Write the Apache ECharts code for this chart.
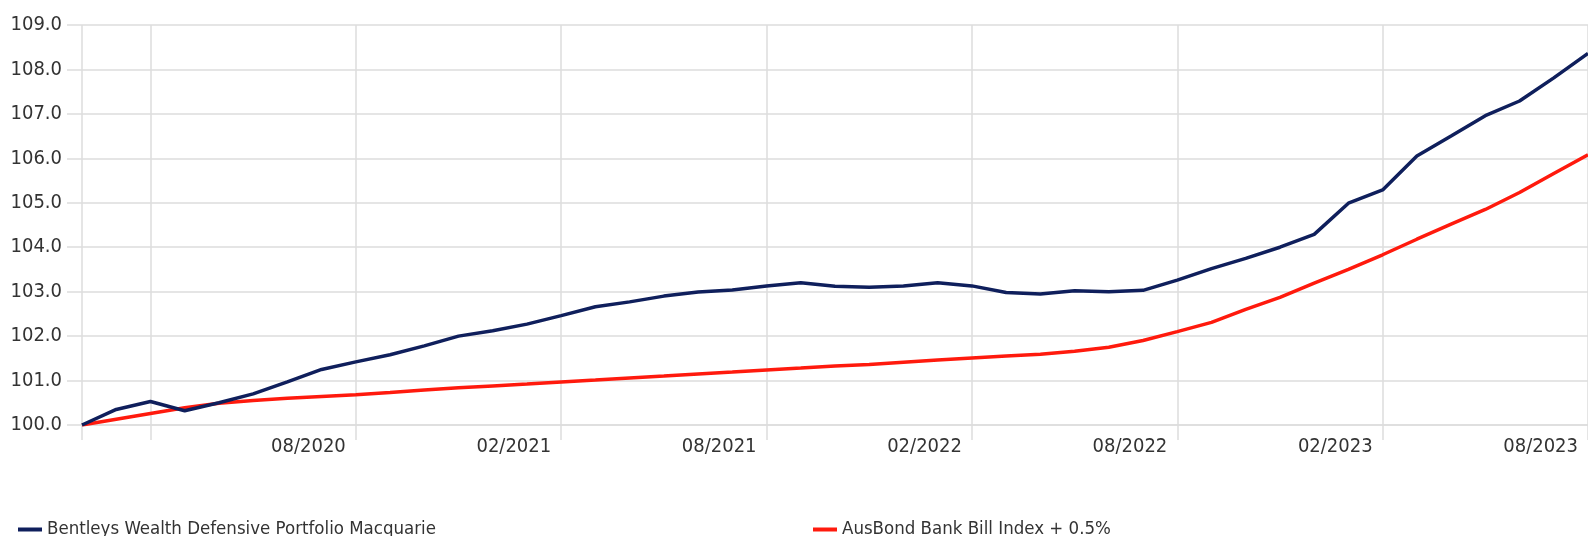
<!DOCTYPE html>
<html>
<head>
<meta charset="utf-8">
<script src="https://cdn.jsdelivr.net/npm/echarts@6/dist/echarts.min.js"></script>
<style>
html,body{margin:0;padding:0;background:#fff;}
#chart{width:1588px;height:536px;}
</style>
</head>
<body>
<div id="chart"></div>
<script>
const months = [
  '12/2019','01/2020','02/2020','03/2020','04/2020','05/2020','06/2020','07/2020','08/2020','09/2020','10/2020','11/2020',
  '12/2020','01/2021','02/2021','03/2021','04/2021','05/2021','06/2021','07/2021','08/2021','09/2021','10/2021','11/2021',
  '12/2021','01/2022','02/2022','03/2022','04/2022','05/2022','06/2022','07/2022','08/2022','09/2022','10/2022','11/2022',
  '12/2022','01/2023','02/2023','03/2023','04/2023','05/2023','06/2023','07/2023','08/2023'
];
const seriesNames = ['Bentleys Wealth Defensive Portfolio Macquarie', 'AusBond Bank Bill Index + 0.5%'];
const portfolio = [
  100.0, 100.35, 100.53, 100.32, 100.5, 100.7, 100.97, 101.25, 101.42, 101.58, 101.78, 102.0,
  102.12, 102.27, 102.46, 102.66, 102.77, 102.9, 102.99, 103.04, 103.13, 103.2, 103.12, 103.1,
  103.13, 103.2, 103.13, 102.98, 102.95, 103.02, 103.0, 103.03, 103.26, 103.52, 103.75, 104.0,
  104.29, 104.99, 105.29, 106.05, 106.5, 106.96, 107.29, 107.81, 108.36
];
const benchmark = [
  100.0, 100.13, 100.26, 100.39, 100.49, 100.55, 100.6, 100.64, 100.68, 100.73, 100.79, 100.84,
  100.88, 100.92, 100.97, 101.01, 101.06, 101.1, 101.15, 101.19, 101.24, 101.28, 101.33, 101.36,
  101.41, 101.46, 101.51, 101.55, 101.59, 101.66, 101.75, 101.9, 102.1, 102.31, 102.6, 102.87,
  103.19, 103.5, 103.83, 104.18, 104.52, 104.85, 105.23, 105.66, 106.08
];
const yMin = 100, yMax = 109, yStep = 1;

const FONT = "'Liberation Sans Narrow', 'Arial Narrow', 'DejaVu Sans Condensed', sans-serif";
const gridColor = '#dddddd';
const textColor = '#333333';
const tickShown = (i) => i === 0 || (i >= 2 && (i - 2) % 6 === 0);
const labelShown = (i) => i > 2 && (i - 2) % 6 === 0;

const chart = echarts.init(document.getElementById('chart'), null, {renderer: 'canvas'});
chart.setOption({
  animation: false,
  backgroundColor: '#ffffff',
  textStyle: {fontFamily: FONT},
  grid: {left: 82, top: 25, right: 0, bottom: 111, containLabel: false},
  legend: [
    {
      left: 13, top: 515, data: [seriesNames[0]], icon: 'rect', itemWidth: 24, itemHeight: 4, itemGap: 5,
      textStyle: {fontFamily: FONT, fontSize: 18.5, color: textColor}
    },
    {
      left: 808, top: 515, data: [seriesNames[1]], icon: 'rect', itemWidth: 24, itemHeight: 4, itemGap: 5,
      textStyle: {fontFamily: FONT, fontSize: 18.5, color: textColor}
    }
  ],
  xAxis: {
    type: 'category',
    data: months,
    boundaryGap: false,
    axisLine: {show: true, lineStyle: {color: gridColor, width: 1.5}},
    axisTick: {show: true, length: 15, interval: tickShown, lineStyle: {color: gridColor, width: 1.5}},
    splitLine: {show: true, interval: tickShown, lineStyle: {color: gridColor, width: 1.5}},
    axisLabel: {
      show: true, interval: labelShown, align: 'right', padding: [0, 10, 0, 0], margin: 12,
      fontFamily: FONT, fontSize: 20, color: textColor
    }
  },
  yAxis: {
    type: 'value',
    min: yMin, max: yMax, interval: yStep,
    axisLine: {show: false},
    axisTick: {show: true, length: 15, lineStyle: {color: gridColor, width: 1.5}},
    splitLine: {show: true, lineStyle: {color: gridColor, width: 1.5}},
    axisLabel: {
      margin: 20, fontFamily: FONT, fontSize: 20, color: textColor,
      formatter: (v) => v.toFixed(1)
    }
  },
  series: [
    {
      name: seriesNames[0], type: 'line', data: portfolio, symbol: 'none', smooth: false,
      lineStyle: {color: '#0f1f5c', width: 3.5}, itemStyle: {color: '#0f1f5c'}, z: 3
    },
    {
      name: seriesNames[1], type: 'line', data: benchmark, symbol: 'none', smooth: false,
      lineStyle: {color: '#ff1a0d', width: 3.5}, itemStyle: {color: '#ff1a0d'}, z: 2
    }
  ]
});
</script>
</body>
</html>
